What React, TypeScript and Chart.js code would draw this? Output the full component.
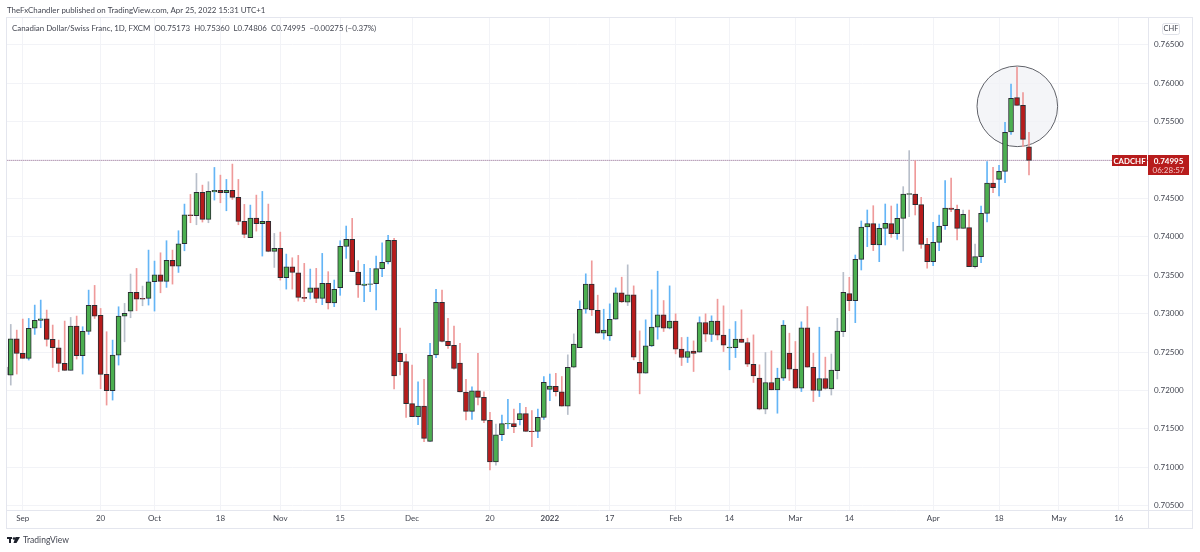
import { useEffect, useRef } from "react";
import { Chart } from "chart.js/auto";

// daily CADCHF candles, first entry is the one cut off by the left edge
const firstSession = -1;
const opens = [
	0.72201, 0.72199, 0.72673, 0.72482, 0.72417, 0.72811, 0.72911, 0.72933, 0.72664, 0.72555,
	0.72351, 0.7226, 0.72837, 0.72451, 0.72768, 0.73107, 0.72976, 0.72208, 0.71996, 0.7246,
	0.72968, 0.73033, 0.73276, 0.73198, 0.73198, 0.73415, 0.73506, 0.73419, 0.73692, 0.73619,
	0.73909, 0.74287, 0.74274, 0.74578, 0.74226, 0.74586, 0.74604, 0.74573, 0.74604, 0.74513,
	0.742, 0.73988, 0.74244, 0.7417, 0.742, 0.7381, 0.73849, 0.73467, 0.7361, 0.73532,
	0.73212, 0.73277, 0.73337, 0.73198, 0.73394, 0.73138, 0.73337, 0.73876, 0.73967, 0.73541,
	0.73368, 0.73381, 0.73389, 0.73585, 0.73672, 0.73954, 0.72482, 0.72374, 0.71827, 0.71658,
	0.71797, 0.71337, 0.72461, 0.73146, 0.72639, 0.72587, 0.72357, 0.71979, 0.71727, 0.71996,
	0.7191, 0.7161, 0.71068, 0.71423, 0.71562, 0.71567, 0.71619, 0.71697, 0.71471, 0.71467,
	0.71649, 0.72014, 0.72053, 0.71981, 0.71795, 0.72302, 0.72558, 0.73057, 0.73383, 0.73044,
	0.72745, 0.7271, 0.72927, 0.7327, 0.73149, 0.73244, 0.72367, 0.72224, 0.7258, 0.72823,
	0.72984, 0.7281, 0.72901, 0.72537, 0.72428, 0.72511, 0.72498, 0.72884, 0.72728, 0.72901,
	0.72719, 0.72554, 0.72558, 0.72667, 0.72624, 0.72341, 0.72159, 0.71755, 0.72103, 0.72007,
	0.72159, 0.72485, 0.72276, 0.72029, 0.72814, 0.72302, 0.71999, 0.72155, 0.72018, 0.72257,
	0.72765, 0.7326, 0.73169, 0.73707, 0.74128, 0.74171, 0.73893, 0.7411, 0.74171, 0.74041,
	0.7424, 0.74553, 0.74557, 0.74418, 0.73902, 0.73676, 0.73928, 0.74145, 0.74375, 0.74358,
	0.7411, 0.74119, 0.73611, 0.73741, 0.74306, 0.74701, 0.74748, 0.74852, 0.75365, 0.75812,
	0.75712, 0.75173,
];
const highs = [
	0.72305, 0.72859, 0.72785, 0.72929, 0.72937, 0.73111, 0.73176, 0.73046, 0.72851, 0.72655,
	0.72903, 0.7295, 0.72968, 0.72829, 0.73306, 0.73367, 0.73067, 0.72764, 0.72655, 0.73089,
	0.73133, 0.73515, 0.73588, 0.73358, 0.73827, 0.73684, 0.73792, 0.73949, 0.73827, 0.74079,
	0.74426, 0.74552, 0.74825, 0.74673, 0.74717, 0.74903, 0.74803, 0.74747, 0.74947, 0.74747,
	0.74422, 0.74413, 0.74543, 0.74591, 0.74426, 0.74044, 0.74061, 0.73775, 0.73727, 0.73758,
	0.73654, 0.7358, 0.73589, 0.73784, 0.73546, 0.73437, 0.73949, 0.7414, 0.7424, 0.73689,
	0.73641, 0.73589, 0.7375, 0.73923, 0.74019, 0.7398, 0.72812, 0.72474, 0.7233, 0.72113,
	0.72144, 0.72613, 0.73316, 0.73307, 0.72938, 0.72838, 0.72613, 0.72144, 0.72048, 0.72482,
	0.71983, 0.71714, 0.71562, 0.71679, 0.71883, 0.71758, 0.71831, 0.71779, 0.71736, 0.71758,
	0.72179, 0.72213, 0.72222, 0.72181, 0.72463, 0.72736, 0.73166, 0.73518, 0.73687, 0.7324,
	0.73057, 0.73127, 0.73335, 0.73474, 0.73635, 0.73361, 0.72775, 0.72919, 0.73309, 0.73552,
	0.7317, 0.73361, 0.72997, 0.72689, 0.72693, 0.72645, 0.72958, 0.72997, 0.72971, 0.73188,
	0.73101, 0.72797, 0.72897, 0.73049, 0.7268, 0.72723, 0.72333, 0.72493, 0.72515, 0.72289,
	0.7291, 0.72745, 0.72637, 0.72893, 0.73092, 0.72485, 0.72823, 0.72433, 0.72474, 0.72939,
	0.73537, 0.73472, 0.73763, 0.74206, 0.74349, 0.74405, 0.74167, 0.74427, 0.74401, 0.74427,
	0.74653, 0.75122, 0.74991, 0.74514, 0.7398, 0.74188, 0.74284, 0.74731, 0.74766, 0.74414,
	0.74349, 0.74349, 0.73906, 0.74401, 0.74978, 0.74905, 0.74931, 0.7549, 0.7599, 0.76207,
	0.75877, 0.7536,
];
const lows = [
	0.72201, 0.72069, 0.72213, 0.72417, 0.72395, 0.72729, 0.72816, 0.72577, 0.72299, 0.72243,
	0.7226, 0.7226, 0.72408, 0.72213, 0.72729, 0.72937, 0.72022, 0.71809, 0.71874, 0.7233,
	0.72633, 0.72946, 0.73037, 0.73102, 0.73111, 0.73033, 0.73271, 0.73341, 0.73384, 0.73536,
	0.73818, 0.74183, 0.74157, 0.74192, 0.74183, 0.74478, 0.74443, 0.74339, 0.74487, 0.74157,
	0.73988, 0.73988, 0.74074, 0.73749, 0.73805, 0.73601, 0.73436, 0.73319, 0.73319, 0.73163,
	0.73155, 0.7319, 0.73142, 0.73116, 0.7306, 0.7309, 0.73238, 0.73719, 0.73546, 0.73212,
	0.73155, 0.73285, 0.73047, 0.73481, 0.73646, 0.72018, 0.722, 0.71649, 0.71658, 0.71554,
	0.71332, 0.71337, 0.72426, 0.7263, 0.72547, 0.72278, 0.71979, 0.71614, 0.71623, 0.7181,
	0.7158, 0.70963, 0.71028, 0.71345, 0.71502, 0.71449, 0.71549, 0.71467, 0.71267, 0.71384,
	0.71623, 0.71866, 0.71927, 0.71795, 0.71686, 0.72294, 0.72558, 0.73005, 0.72975, 0.72745,
	0.72667, 0.7265, 0.72927, 0.73144, 0.73105, 0.72398, 0.71955, 0.72224, 0.72571, 0.72667,
	0.72767, 0.72801, 0.72476, 0.72324, 0.72363, 0.72246, 0.72498, 0.72637, 0.72637, 0.72658,
	0.72506, 0.72268, 0.72428, 0.72624, 0.72311, 0.72103, 0.71747, 0.71695, 0.72007, 0.71703,
	0.72129, 0.72129, 0.72029, 0.71985, 0.72302, 0.71855, 0.7192, 0.72016, 0.7194, 0.72149,
	0.727, 0.73038, 0.72882, 0.73568, 0.73872, 0.7382, 0.73676, 0.73893, 0.73993, 0.73967,
	0.73815, 0.74262, 0.74284, 0.7385, 0.7359, 0.73624, 0.7382, 0.74097, 0.74327, 0.73958,
	0.7411, 0.73611, 0.7359, 0.73663, 0.74193, 0.74575, 0.74531, 0.74705, 0.75334, 0.75712,
	0.75174, 0.74806,
];
const closes = [
	0.72305, 0.72673, 0.72482, 0.72417, 0.72807, 0.72911, 0.72933, 0.72664, 0.72555, 0.72351,
	0.7226, 0.72837, 0.72451, 0.72768, 0.73107, 0.72968, 0.72208, 0.71996, 0.7246, 0.72968,
	0.73002, 0.73276, 0.73189, 0.73189, 0.73415, 0.73506, 0.73419, 0.73692, 0.73619, 0.73909,
	0.74287, 0.74274, 0.74578, 0.74226, 0.74591, 0.74604, 0.74573, 0.74604, 0.74513, 0.742,
	0.74031, 0.74244, 0.7417, 0.742, 0.7381, 0.73849, 0.73467, 0.7361, 0.73536, 0.73211,
	0.73198, 0.73337, 0.73198, 0.73394, 0.73138, 0.73316, 0.73876, 0.73967, 0.73546, 0.73372,
	0.73385, 0.73389, 0.73585, 0.73667, 0.73954, 0.72187, 0.72374, 0.71827, 0.71658, 0.71797,
	0.71376, 0.72456, 0.73146, 0.72639, 0.72582, 0.72287, 0.71979, 0.71727, 0.71996, 0.7191,
	0.7161, 0.71068, 0.71423, 0.71567, 0.71571, 0.71528, 0.71697, 0.71467, 0.71462, 0.71649,
	0.72105, 0.72057, 0.71983, 0.71795, 0.72302, 0.72602, 0.73057, 0.73383, 0.73049, 0.72745,
	0.72784, 0.72927, 0.7327, 0.73153, 0.73244, 0.72433, 0.72224, 0.7258, 0.72823, 0.72984,
	0.7281, 0.72901, 0.72537, 0.72428, 0.72506, 0.7248, 0.72884, 0.72732, 0.72901, 0.72719,
	0.72589, 0.72563, 0.72667, 0.72624, 0.72341, 0.72189, 0.71755, 0.72103, 0.72007, 0.72159,
	0.72849, 0.72276, 0.72029, 0.72814, 0.72302, 0.71999, 0.72155, 0.72025, 0.72266, 0.72774,
	0.73277, 0.73169, 0.73707, 0.74128, 0.74171, 0.73898, 0.7411, 0.74175, 0.74041, 0.7424,
	0.74557, 0.74562, 0.74418, 0.73902, 0.73676, 0.73928, 0.74141, 0.74375, 0.74358, 0.7411,
	0.74293, 0.73611, 0.73741, 0.74306, 0.74701, 0.7464, 0.74852, 0.7536, 0.75803, 0.75712,
	0.75269, 0.74995,
];
// sessions whose wick is drawn grey on the reference
const greyWicks = [-1, 0, 10, 19, 20, 22, 31, 33, 44, 81, 93, 94, 103, 126, 137, 138, 139, 149, 150, 159, 161];

const timeTicks = [2, 15, 24, 35, 45, 55, 67, 80, 90, 100, 111, 120, 131, 140, 154, 165, 175, 185];
const timeLabels = ["Sep", "20", "Oct", "18", "Nov", "15", "Dec", "20", "2022", "17", "Feb", "14", "Mar", "14", "Apr", "18", "May", "16"];
const priceTicks = [0.705, 0.71, 0.715, 0.72, 0.725, 0.73, 0.735, 0.74, 0.745, 0.75, 0.755, 0.76, 0.765];

const lastPrice = 0.74995;
const circled = { x: 168.05, y: 0.75699 };

const FONT = 'Lato, sans-serif';
const TEXT = "#434651";

const session = (i: number) => i + firstSession;
const isUp = (i: number) => closes[i] >= opens[i];

const noScalePadding = (scale: any) => {
	scale.paddingLeft = 0;
	scale.paddingRight = 0;
	scale.paddingTop = 0;
	scale.paddingBottom = 0;
};

const overlay = {
	id: "overlay",
	afterDraw(chart: any) {
		const ctx = chart.ctx;
		const yScale = chart.scales.y;
		const lastY = Math.round(yScale.getPixelForValue(lastPrice));
		ctx.save();

		// pane frame
		ctx.strokeStyle = "#e4e6ee";
		ctx.lineWidth = 1;
		ctx.strokeRect(6.5, 17.5, 1186, 511);
		ctx.beginPath();
		ctx.moveTo(1148.5, 17);
		ctx.lineTo(1148.5, 529);
		ctx.moveTo(6, 510.5);
		ctx.lineTo(1193, 510.5);
		ctx.stroke();

		// header and legend
		ctx.textBaseline = "middle";
		ctx.textAlign = "left";
		ctx.fillStyle = TEXT;
		ctx.font = `7.9px ${FONT}`;
		ctx.fillText("TheFxChandler published on TradingView.com, Apr 25, 2022 15:31 UTC+1", 7, 10);
		ctx.fillText(
			"Canadian Dollar/Swiss Franc, 1D, FXCM  O0.75173  H0.75360  L0.74806  C0.74995  \u22120.00275 (\u22120.37%)",
			12,
			28
		);

		// currency box
		ctx.strokeStyle = "#dfe1e8";
		ctx.beginPath();
		ctx.roundRect(1162.5, 23.5, 17, 11, 2);
		ctx.stroke();
		ctx.textAlign = "center";
		ctx.font = `7.5px ${FONT}`;
		ctx.fillText("CHF", 1171, 29);

		// last price tags
		ctx.fillStyle = "#b71c1c";
		ctx.fillRect(1112, lastY - 5, 35, 11);
		ctx.fillRect(1148, lastY - 5, 41, 20);
		ctx.fillStyle = "#ffffff";
		ctx.font = `bold 7.8px ${FONT}`;
		ctx.fillText("CADCHF", 1129.5, lastY + 1);
		ctx.font = `bold 8px ${FONT}`;
		ctx.fillText(lastPrice.toFixed(5), 1168.5, lastY + 1);
		ctx.fillStyle = "#f3c9c9";
		ctx.font = `8px ${FONT}`;
		ctx.fillText("06:28:57", 1168.5, lastY + 10);

		// footer
		ctx.fillStyle = "#1e222d";
		ctx.fillRect(7, 537, 5, 2);
		ctx.fillRect(9, 537, 2, 6);
		ctx.beginPath();
		ctx.arc(14, 538.5, 1.3, 0, Math.PI * 2);
		ctx.fill();
		ctx.beginPath();
		ctx.moveTo(15.5, 537);
		ctx.lineTo(20, 537);
		ctx.lineTo(16.5, 543);
		ctx.lineTo(13.5, 543);
		ctx.fill();
		ctx.textAlign = "left";
		ctx.fillStyle = TEXT;
		ctx.font = `8.5px ${FONT}`;
		ctx.fillText("TradingView", 23, 540.5);
		ctx.restore();
	},
};

const App = (): JSX.Element => {
	const chartRef = useRef<HTMLCanvasElement | null>(null);

	useEffect(() => {
		const myChart = new Chart(chartRef.current.getContext("2d"), {
			type: "bar",
			plugins: [overlay],
			data: {
				datasets: [
					{
						label: "Bodies",
						order: 1,
						grouped: false,
						barThickness: 5,
						borderWidth: 1,
						borderColor: "#2b2d33",
						borderSkipped: false,
						backgroundColor: opens.map((_, i) => (isUp(i) ? "#4caf50" : "#b71c1c")),
						data: opens.map((o, i) => ({ x: session(i), y: [o, closes[i]] })),
					},
					{
						label: "Wicks",
						order: 2,
						grouped: false,
						barThickness: 1,
						backgroundColor: opens.map((_, i) =>
							greyWicks.includes(session(i)) ? "#b8bfca" : isUp(i) ? "#64b5f6" : "#ef9a9a"
						),
						data: opens.map((_, i) => ({ x: session(i), y: [lows[i], highs[i]] })),
					},
					{
						label: "Circle",
						type: "scatter",
						order: 3,
						pointRadius: 40.3,
						pointBorderWidth: 1,
						pointBorderColor: "#5f6168",
						pointBackgroundColor: "rgba(240, 241, 246, 0.75)",
						data: [circled],
					},
					{
						label: "Last price dots",
						type: "line",
						order: 4,
						borderColor: "#b08ca6",
						borderWidth: 1,
						borderDash: [1, 1],
						pointRadius: 0,
						data: [
							{ x: -1, y: lastPrice },
							{ x: 190, y: lastPrice },
						],
					},
					{
						label: "Last price",
						type: "line",
						order: 5,
						borderColor: "#dddcea",
						borderWidth: 1,
						pointRadius: 0,
						data: [
							{ x: -1, y: lastPrice },
							{ x: 190, y: lastPrice },
						],
					},
				],
			},
			options: {
				responsive: false,
				devicePixelRatio: 1,
				animation: false,
				// the big circle point would otherwise push the whole plot inwards
				layout: { autoPadding: false, padding: { left: 7, right: 7, top: 17, bottom: 23 } },
				plugins: { legend: { display: false }, tooltip: { enabled: false } },
				scales: {
					x: {
						type: "linear",
						min: -0.63,
						max: 189.87,
						offset: false,
						border: { display: false },
						grid: { offset: false, color: "#f2f3f7", drawTicks: false },
						afterFit: (scale) => {
							scale.height = 19;
							noScalePadding(scale);
						},
						afterBuildTicks: (scale) => {
							scale.ticks = timeTicks.map((value) => ({ value }));
						},
						ticks: {
							autoSkip: false,
							maxRotation: 0,
							padding: 4,
							color: TEXT,
							font: (ctx) => ({
								family: FONT,
								size: 8,
								weight: ctx.tick && ctx.tick.value === 90 ? "bold" : "normal",
							}),
							callback: (value) => timeLabels[timeTicks.indexOf(value as number)],
						},
					},
					y: {
						position: "right",
						min: 0.704427,
						max: 0.76862,
						border: { display: false },
						grid: { color: "#f2f3f7", drawTicks: false },
						afterFit: (scale) => {
							scale.width = 45;
							noScalePadding(scale);
						},
						afterBuildTicks: (scale) => {
							scale.ticks = priceTicks.map((value) => ({ value }));
						},
						ticks: {
							autoSkip: false,
							padding: 6,
							color: TEXT,
							font: { family: FONT, size: 8 },
							callback: (value) => (value as number).toFixed(5),
						},
					},
				},
			},
		});

		return () => {
			myChart.destroy();
		};
	}, []);

	return (
		<div style={{ position: "fixed", left: 0, top: 0, width: 1200, height: 552, background: "#fff" }}>
			<canvas ref={chartRef} width={1200} height={552} style={{ display: "block" }} />
		</div>
	);
};

export default App;
